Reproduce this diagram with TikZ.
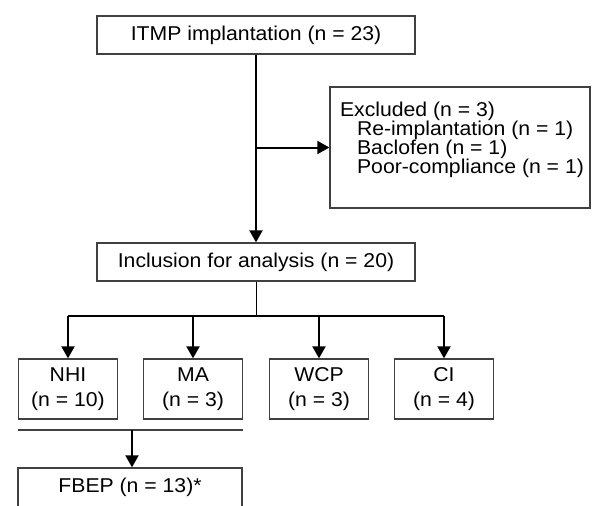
\documentclass[tikz,border=0pt]{standalone}
\usepackage{fontspec}
\setmainfont{Liberation Sans}[FakeStretch=1.06]
\usepackage{tikz}
\usetikzlibrary{arrows.meta}

\begin{document}
\begin{tikzpicture}[x=1pt, y=-1pt,
  flowbox/.style={draw=black!75, line width=1.3pt, fill=white, inner sep=0pt,
    font=\fontsize{20}{25}\selectfont, align=center},
  arr/.style={-{Triangle[length=12pt,width=13pt]}, line width=2pt}]
\useasboundingbox (0,0) rectangle (592,506);
\clip (0,0) rectangle (592,506);

\node[flowbox, minimum width=318pt, minimum height=38pt] (itmp) at (256,35) {ITMP implantation (n = 23)};
\node[flowbox, minimum width=260pt, minimum height=121pt, align=left,
  text depth=20pt, font=\fontsize{20}{19}\selectfont] (excl) at (460,147.5)
  {\hspace*{4pt}Excluded (n = 3)\\ \hspace*{21pt}Re-implantation (n = 1)\\ \hspace*{21pt}Baclofen (n = 1)\\ \hspace*{21pt}Poor-compliance (n = 1)};
\node[flowbox, minimum width=318pt, minimum height=38pt] (incl) at (256,262) {Inclusion for analysis (n = 20)};

% groups
\node[flowbox, minimum width=99pt, minimum height=60pt] (nhi) at (68,389) {NHI\\(n = 10)};
\node[flowbox, minimum width=99pt, minimum height=60pt] (ma) at (193,389) {MA\\(n = 3)};
\node[flowbox, minimum width=99pt, minimum height=60pt] (wcp) at (319,389) {WCP\\(n = 3)};
\node[flowbox, minimum width=99pt, minimum height=60pt] (ci) at (444,389) {CI\\(n = 4)};

\node[flowbox, minimum width=224pt, minimum height=39pt] (fbep) at (130,487.5) {FBEP (n = 13)*};

\draw[arr] (itmp) -- (incl);
\draw[arr] (itmp.south |- excl.west) -- (excl.west);

\coordinate (split) at (256,316);
\draw[line width=1pt] (incl.south) -- (split);
\draw[line width=2pt] (nhi.north |- split) -- (ci.north |- split);
\foreach \g in {nhi, ma, wcp, ci}
  \draw[arr] (\g.north |- split) -- (\g.north);

\coordinate (merge) at (132,430);
\draw[black!75, line width=1.5pt] (nhi.west |- merge) -- (ma.east |- merge);
\draw[arr] (merge) -- (merge |- fbep.north);
\end{tikzpicture}
\end{document}
